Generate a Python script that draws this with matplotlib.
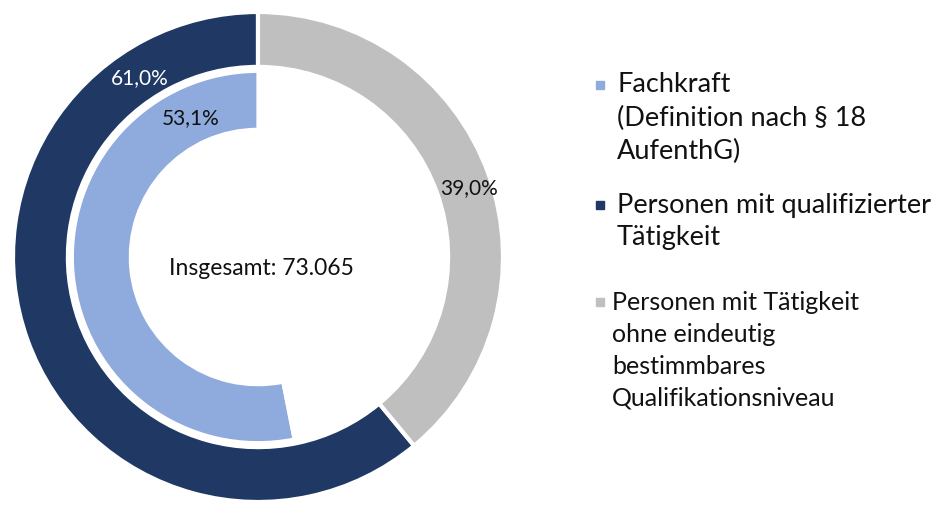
import numpy as np
import matplotlib.pyplot as plt
from matplotlib.patches import Rectangle

# Daten
kategorien = [
    ['Fachkraft', '(Definition nach § 18', 'AufenthG)'],
    ['Personen mit qualifizierter', 'Tätigkeit'],
    ['Personen mit Tätigkeit', 'ohne eindeutig', 'bestimmbares', 'Qualifikationsniveau'],
]
aussen = [61.0, 39.0]     # qualifizierte Tätigkeit / ohne bestimmbares Niveau
innen = [53.1, 46.9]      # Fachkraft / Rest (leer)
gesamt = 'Insgesamt: 73.065'

hellblau = '#8FAADC'
dunkelblau = '#1F3864'
grau = '#BFBFBF'

plt.rcParams['font.family'] = ['Lato', 'DejaVu Sans']

fig = plt.figure(figsize=(9.31, 5.08), dpi=100)
ax = fig.add_axes([8 / 931, 1 / 508, 500 / 931, 500 / 508])

ax.pie(aussen, radius=1.0, startangle=90, counterclock=True,
       colors=[dunkelblau, grau],
       wedgeprops=dict(width=0.224, edgecolor='white', linewidth=3))
ax.pie(innen, radius=0.757, startangle=90, counterclock=True,
       colors=[hellblau, 'none'],
       wedgeprops=dict(width=0.235, edgecolor='white', linewidth=2))

lim = 250 / 245
ax.set_xlim(-lim, lim)
ax.set_ylim(-lim, lim)
ax.set_aspect('equal')
ax.axis('off')


def polar(r, winkel):
    w = np.deg2rad(winkel)
    return r * np.cos(w), r * np.sin(w)


# Beschriftungen
x, y = polar(0.875, 123.5)
ax.text(x, y, f'{aussen[0]:.1f}%'.replace('.', ','), color='white',
        fontsize=15, ha='center', va='center')
x, y = polar(0.63, 116)
ax.text(x, y, f'{innen[0]:.1f}%'.replace('.', ','), color='#111111',
        fontsize=15, ha='center', va='center')
x, y = polar(0.905, 18)
ax.text(x, y, f'{aussen[1]:.1f}%'.replace('.', ','), color='#111111',
        fontsize=15, ha='center', va='center')
ax.text(0.016, -0.045, gesamt, color='#111111', fontsize=16.5,
        ha='center', va='center')

# Legende
farben = [hellblau, dunkelblau, grau]
start_y = [85, 205, 302]
text_x = [617, 617, 612]
groessen = [19.5, 19.5, 18]
abstand = [33, 33, 32]
for zeilen, farbe, y0, tx, fs, dz in zip(kategorien, farben, start_y, text_x, groessen, abstand):
    fig.patches.append(Rectangle((596 / 931, (508 - y0 - 4) / 508), 8 / 931, 8 / 508,
                                 transform=fig.transFigure, color=farbe))
    for i, zeile in enumerate(zeilen):
        fig.text(tx / 931, (508 - y0 - i * dz) / 508, zeile, fontsize=fs,
                 color='#111111', ha='left', va='center')

fig.savefig('out.png', dpi=100, facecolor='white')
